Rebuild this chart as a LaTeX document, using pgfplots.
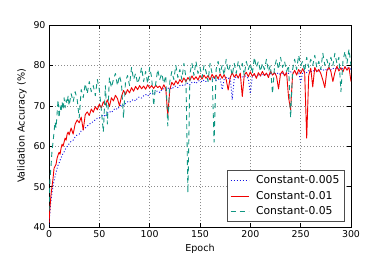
\documentclass[border=0pt]{standalone}
\usepackage{pgfplots}
\pgfplotsset{compat=1.18}
\usepackage{fontspec}
\setmainfont{DejaVu Sans}
\definecolor{cblue}{RGB}{20,20,230}
\definecolor{cred}{RGB}{240,0,0}
\definecolor{cteal}{RGB}{15,150,130}
\begin{document}
\begin{tikzpicture}
\useasboundingbox (-49pt,-33pt) rectangle (341pt,227pt);
\begin{axis}[
  at={(0pt,0pt)}, anchor=south west,
  width=302pt, height=202pt, scale only axis,
  xmin=0, xmax=300, ymin=40, ymax=90,
  xtick={0,50,...,300}, ytick={40,50,...,90},
  tick align=inside, major tick length=4pt,
  every tick/.style={black, line width=0.6pt},
  grid=major,
  major grid style={black!45, line width=0.45pt, dash pattern=on 1pt off 2pt},
  axis line style={black, line width=0.9pt},
  /pgf/number format/assume math mode=true,
  tick label style={font=\fontsize{9.4}{11}\selectfont},
  label style={font=\fontsize{9.6}{11}\selectfont},
  xlabel={Epoch}, ylabel={Validation Accuracy (\%)},
  legend cell align=left,
  legend image code/.code={\draw[#1] (0pt,0pt) -- (18pt,0pt);},
  legend style={at={(1,0)}, anchor=south east, xshift=-6pt, yshift=5pt,
    font=\fontsize{10.8}{13}\selectfont, draw=black!70, line width=1.1pt,
    inner xsep=3pt, inner ysep=3pt, row sep=2pt, column sep=5pt,
    nodes={inner sep=2pt}},
  every axis plot/.append style={line join=round},
]
\addplot[cblue, line width=0.9pt, dash pattern=on 1pt off 2pt] coordinates {
(0,40.5)(1,44)(2,46.5)(3,48.5)(4,50)(5,51.5)(6,52.5)(7,53.5)(8,54.5)(9,55.3)(10,55.8)
(11,56.5)(12,57.2)(13,57.6)(14,58.3)(15,58.6)(16,59.2)(17,59.5)(18,59.9)(19,60.3)(20,60.6)
(22,61.2)(24,61.5)(26,62.3)(28,62.8)(30,63.0)(32,63.8)(34,64.1)(36,64.5)(38,65.0)(40,65.4)
(42,65.9)(44,66.0)(46,66.6)(48,66.9)(50,67.0)(52,67.4)(54,67.8)(56,67.3)(58,68.2)(60,68.6)
(62,68.3)(64,69.0)(66,69.4)(68,69.1)(70,69.8)(72,70.2)(74,70.0)(76,70.6)(78,71.0)(80,70.8)
(82,71.3)(84,71.6)(86,71.2)(88,72.0)(90,72.2)(92,71.9)(94,72.5)(96,72.8)(98,72.4)(100,73.0)
(102,73.2)(104,72.8)(106,73.5)(108,73.7)(110,73.3)(112,74.0)(114,74.2)(116,73.8)(118,74.3)(120,74.5)
(122,74.1)(124,74.7)(126,74.9)(128,74.5)(130,75.0)(132,75.2)(134,74.9)(136,75.4)(138,75.6)(140,75.2)
(142,75.8)(144,75.9)(146,75.5)(148,76.1)(150,76.3)(152,75.9)(154,76.4)(156,76.0)(158,76.6)(160,76.8)
(162,76.3)(164,76.9)(166,76.2)(168,76.5)(170,76.9)(172,74.0)(174,76.6)(176,77.0)(178,76.7)(180,77.1)
(182,71.5)(184,76.8)(186,77.2)(188,76.9)(190,77.3)(192,77.0)(194,77.5)(196,77.2)(198,76.8)(200,73.0)
(202,77.4)(204,77.6)(206,77.1)(208,77.7)(210,77.4)(212,77.8)(214,77.5)(216,77.9)(218,77.6)(220,78.0)
(222,77.7)(224,78.1)(226,77.8)(228,78.2)(230,77.7)(232,78.1)(234,77.6)(236,78.3)(238,78.0)(240,78.4)
(242,78.1)(244,78.5)(246,78.0)(248,78.4)(250,75.8)(252,78.3)(254,78.6)(256,78.2)(258,78.7)(260,78.4)
(262,78.8)(264,78.5)(266,78.9)(268,78.6)(270,79.0)(272,78.7)(274,79.1)(276,78.8)(278,79.2)(280,78.9)
(282,79.3)(284,79.0)(286,79.4)(288,79.0)(290,79.5)(292,79.2)(294,79.6)(296,79.3)(298,79.4)(300,79.0)
};
\addlegendentry{Constant-0.005}
\addplot[cred, line width=0.9pt] coordinates {
(0,41)(1,45)(2,48)(3,50)(4,52)(5,54.5)(6,55)(7,55.5)(8,57)(9,57.8)(10,58.5)
(11,58)(12,59.5)(13,60.5)(14,60)(15,61)(16,62)(17,61.5)(18,63)(19,63.5)(20,62.8)
(22,64.5)(24,63.0)(26,65.5)(28,66.5)(30,65.8)(32,67.2)(34,64.0)(36,67.8)(38,68.5)(40,67.6)
(42,69.2)(44,68.4)(46,69.8)(48,69.0)(50,70.4)(52,69.5)(54,71.0)(56,70.2)(58,71.5)(60,69.8)
(62,72.0)(64,71.2)(66,72.6)(68,71.8)(70,70.0)(72,72.3)(74,73.8)(76,72.8)(78,74.0)(80,73.2)
(82,74.5)(84,73.6)(86,74.8)(88,74.0)(90,75.0)(92,74.2)(94,74.9)(96,74.1)(98,75.2)(100,74.4)
(102,75.0)(104,74.3)(106,75.1)(108,74.5)(110,74.9)(112,74.0)(114,75.2)(116,74.3)(118,67.5)(120,74.0)
(122,75.8)(124,75.1)(126,76.2)(128,75.4)(130,76.5)(132,75.8)(134,76.9)(136,76.0)(138,77.0)(140,76.3)
(142,77.4)(144,76.5)(146,77.2)(148,76.4)(150,77.5)(152,76.6)(154,77.6)(156,76.8)(158,77.5)(160,76.4)
(162,77.8)(164,76.9)(166,77.6)(168,76.7)(170,77.9)(172,76.8)(174,77.7)(176,76.5)(178,73.9)(180,77.0)
(182,78.2)(184,77.1)(186,77.8)(188,76.9)(190,78.1)(192,72.3)(194,77.6)(196,78.3)(198,77.2)(200,78.4)
(202,77.3)(204,78.0)(206,76.8)(208,78.2)(210,77.4)(212,78.5)(214,77.5)(216,78.1)(218,77.0)(220,78.6)
(222,77.6)(224,78.2)(226,77.3)(228,74.2)(230,77.9)(232,78.6)(234,77.4)(236,78.2)(238,72.0)(240,69.0)
(242,77.8)(244,78.8)(246,77.6)(248,79.0)(250,78.0)(252,79.2)(254,78.1)(256,62.0)(258,77.5)(260,79.3)
(262,74.7)(264,79.5)(266,78.4)(268,79.0)(270,78.0)(272,76.4)(274,74.5)(276,78.6)(278,79.6)(280,78.5)
(282,76.0)(284,78.3)(286,79.8)(288,78.6)(290,79.4)(292,78.4)(294,79.7)(296,78.8)(298,79.5)(300,76.0)
};
\addlegendentry{Constant-0.01}
\addplot[cteal, line width=0.9pt, dash pattern=on 5pt off 4pt] coordinates {
(0,44)(1,52)(2,55)(3,59)(4,61)(5,63.5)(6,66)(7,64.5)(8,68)(9,71.5)(10,67)
(11,70)(12,68.5)(13,71)(14,69)(15,72)(16,69.5)(17,71.5)(18,70.5)(19,72.5)(20,70)
(22,73)(24,71)(26,73.5)(28,71.5)(30,67)(32,74)(34,72)(36,75.5)(38,73)(40,76)
(42,73.5)(44,75)(46,72.5)(48,76.5)(50,74)(52,69)(54,63.5)(56,75)(58,65.5)(60,77)
(62,74.5)(64,76.5)(66,78)(68,75)(70,77.5)(72,75.5)(74,67)(76,76)(78,77.5)(80,75)
(82,79.5)(84,76.5)(86,78)(88,75.5)(90,77)(92,79.5)(94,76)(96,78.5)(98,75.5)(100,79.5)
(102,77)(104,70)(106,75.5)(108,79)(110,76.5)(112,78)(114,75.5)(116,77.5)(118,65)(120,76)
(122,78.5)(124,76.5)(126,80)(128,77)(130,79)(132,76.5)(134,80.5)(136,77)(138,48.5)(140,78)
(142,80.5)(144,77.5)(146,81)(148,78)(150,79.5)(152,77)(154,80)(156,78.5)(158,76)(160,80.5)
(162,78)(164,61)(166,79)(168,81)(170,78)(172,80)(174,77.5)(176,81.5)(178,78.5)(180,80)
(182,77.5)(184,80.5)(186,78)(188,81)(190,79)(192,80.5)(194,77.5)(196,81)(198,79)(200,80.5)
(202,78)(204,82)(206,79.5)(208,81)(210,78.5)(212,80.5)(214,79)(216,81.5)(218,78.5)(220,80)
(222,73)(224,79.5)(226,81.5)(228,79)(230,82)(232,79.5)(234,81)(236,78.5)(238,80)(240,67)
(242,79)(244,81.5)(246,79)(248,82.5)(250,80)(252,81)(254,78.5)(256,82)(258,79.5)(260,81.5)
(262,80)(264,82.5)(266,79.5)(268,81)(270,79)(272,83)(274,80)(276,81.5)(278,79.5)(280,82)
(282,80)(284,83)(286,80.5)(288,82)(290,73.5)(292,81)(294,83.5)(296,80.5)(298,84)(300,80)
};
\addlegendentry{Constant-0.05}
\end{axis}
\end{tikzpicture}
\end{document}
